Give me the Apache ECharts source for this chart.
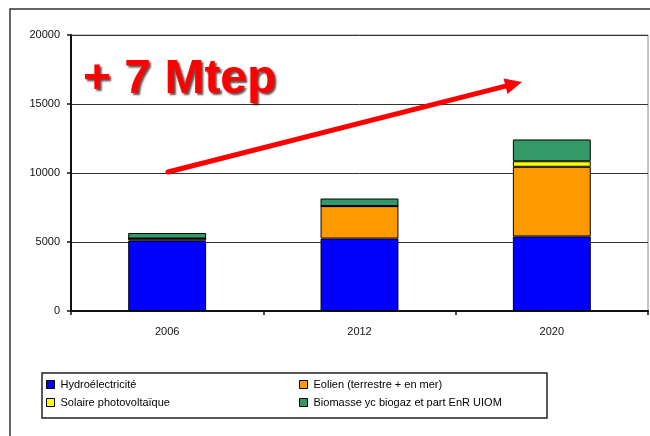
<!DOCTYPE html>
<html>
<head>
<meta charset="utf-8">
<script src="https://cdn.jsdelivr.net/npm/echarts@6/dist/echarts.min.js"></script>
<style>
  html, body { margin: 0; padding: 0; background: #fff; }
  #chart { width: 650px; height: 436px; }
</style>
</head>
<body>
<div id="chart"></div>
<script>
// Production d'électricité renouvelable (ktep)
var categories = ['2006', '2012', '2020'];
var hydro      = [5100, 5250, 5400];
var eolien     = [150, 2350, 5050];
var solaire    = [0, 0, 400];
var biomasse   = [400, 550, 1580];
var yTicks     = { min: 0, max: 20000, interval: 5000 };

var seriesNames = [
  'Hydroélectricité',
  'Eolien (terrestre + en mer)',
  'Solaire photovoltaïque',
  'Biomasse yc biogaz et part EnR UIOM'
];
var seriesData = [hydro, eolien, solaire, biomasse];
var colors = ['#0000FF', '#FF9900', '#FFFF00', '#339966'];
var FONT = '"Liberation Sans", Arial, sans-serif';

var chart = echarts.init(document.getElementById('chart'), null, { renderer: 'canvas' });

var series = seriesNames.map(function (name, i) {
  return {
    name: name,
    type: 'bar',
    stack: 'total',
    barWidth: '40.5%',
    data: seriesData[i],
    itemStyle: { color: colors[i], borderColor: '#000', borderWidth: 1 },
    emphasis: { disabled: true }
  };
});

// one legend block per entry, laid out in two columns
var legendPos = [
  { left: 46, top: 379 },
  { left: 299, top: 379 },
  { left: 46, top: 397 },
  { left: 299, top: 397 }
];
var legends = seriesNames.map(function (name, i) {
  return {
    data: [name],
    left: legendPos[i].left,
    top: legendPos[i].top,
    padding: 0,
    icon: 'rect',
    itemWidth: 8,
    itemHeight: 8,
    itemGap: 0,
    selectedMode: false,
    itemStyle: { color: colors[i], borderColor: '#000', borderWidth: 1 },
    textStyle: { fontFamily: FONT, fontSize: 11, color: '#000', padding: [0, 0, 0, 1] }
  };
});

// arrow geometry (annotation)
var ax0 = 168, ay0 = 172, ax1 = 522, ay1 = 82;
var ang = Math.atan2(ay1 - ay0, ax1 - ax0);
var headLen = 17, headHalf = 8;
var bx = ax1 - headLen * Math.cos(ang), by = ay1 - headLen * Math.sin(ang);
var px = -Math.sin(ang), py = Math.cos(ang);

chart.setOption({
  animation: false,
  color: colors,
  grid: {
    left: 71, right: 2, top: 35, bottom: 125,
    show: true, borderColor: '#8a8a8a', borderWidth: 1, backgroundColor: '#fff'
  },
  legend: legends,
  xAxis: {
    type: 'category',
    data: categories,
    axisLine: { lineStyle: { color: '#111', width: 2 } },
    axisTick: { show: true, length: 4, lineStyle: { color: '#111', width: 1.5 } },
    axisLabel: { fontFamily: FONT, fontSize: 11, color: '#111', margin: 15 }
  },
  yAxis: {
    type: 'value',
    min: yTicks.min, max: yTicks.max, interval: yTicks.interval,
    axisLine: { show: true, lineStyle: { color: '#111', width: 2 } },
    axisTick: { show: true, length: 4, lineStyle: { color: '#111', width: 1.5 } },
    axisLabel: {
      fontFamily: FONT, fontSize: 11, color: '#111', margin: 11,
      formatter: function (v) { return String(v); }
    },
    splitLine: { lineStyle: { color: '#333', width: 1 } }
  },
  series: series,
  graphic: [
    // outer frame
    { type: 'rect', z: -10, silent: true,
      shape: { x: 10, y: 9, width: 660, height: 450 },
      style: { fill: 'none', stroke: '#333', lineWidth: 1.5 } },
    // legend frame
    { type: 'rect', z: 5, silent: true,
      shape: { x: 42, y: 373, width: 505, height: 45 },
      style: { fill: 'none', stroke: '#222', lineWidth: 1.5 } },
    // growth arrow
    { type: 'line', z: 20, silent: true,
      shape: { x1: ax0, y1: ay0, x2: bx + 2 * Math.cos(ang), y2: by + 2 * Math.sin(ang) },
      style: { stroke: '#FF0000', lineWidth: 5, lineCap: 'round' } },
    { type: 'polygon', z: 20, silent: true,
      shape: { points: [[ax1, ay1], [bx + px * headHalf, by + py * headHalf], [bx - px * headHalf, by - py * headHalf]] },
      style: { fill: '#FF0000' } },
    // headline
    { type: 'text', z: 21, silent: true, x: 83, y: 80,
      style: {
        text: '+ 7 Mtep',
        font: 'bold 48px ' + FONT,
        fill: '#FF0000',
        verticalAlign: 'middle',
        align: 'left',
        textShadowColor: 'rgba(40,0,0,0.7)',
        textShadowBlur: 2,
        textShadowOffsetX: 2,
        textShadowOffsetY: 2
      } }
  ]
});
</script>
</body>
</html>
